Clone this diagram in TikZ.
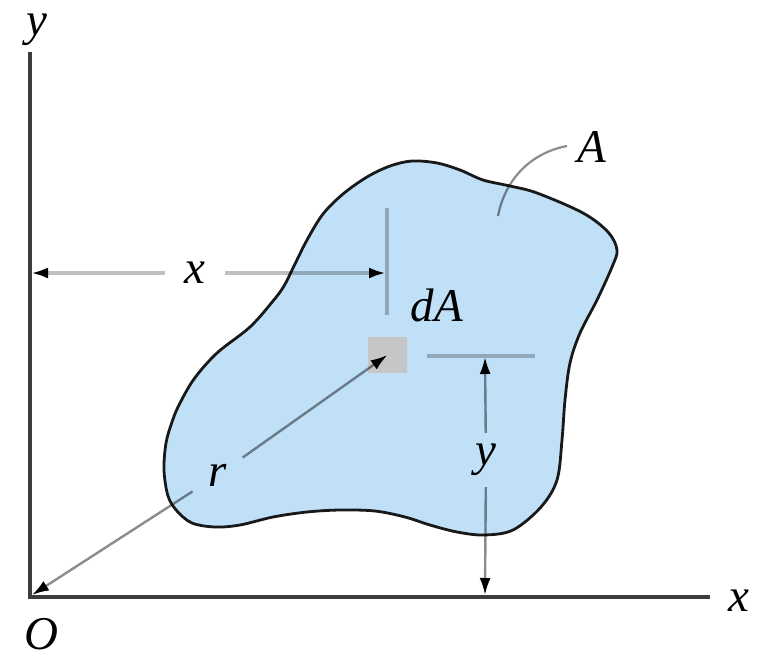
\documentclass[tikz,border=0pt]{standalone}
\usepackage{fontspec}
\setmainfont{Liberation Serif}
\usetikzlibrary{arrows.meta}
\definecolor{areablue}{RGB}{192,224,248}
\definecolor{axisgray}{RGB}{60,60,60}
\definecolor{lightdim}{RGB}{192,192,192}
\definecolor{darkdim}{RGB}{140,140,140}
\definecolor{sqgray}{RGB}{198,198,198}
\begin{document}
\begin{tikzpicture}[x=1pt,y=-1pt,
  font=\fontsize{47}{51}\selectfont\itshape,
  >={Latex[length=17pt,width=11pt,black]},
  lbl/.style={inner sep=0pt},
  axisline/.style={draw=axisgray,line width=4pt},
  outline/.style={draw=black!90,line width=2.8pt,fill=areablue},
  widedim/.style={draw=lightdim,line width=4.5pt},
  thindim/.style={draw=darkdim,line width=2.4pt},
  leaderline/.style={draw=darkdim,line width=2.2pt}]
\useasboundingbox (0,0) rectangle (758,659);

% area A
\path[outline] plot[smooth cycle, tension=0.55] coordinates {
 (250,327) (273,301) (284,286) (294,266) (307,240) (323,214) (343,194)
 (367,177) (390,166) (412,161) (437,163) (460,170) (483,180) (510,186)
 (537,193) (583,213) (608,232) (617,250) (612,267) (597,300) (580,333)
 (570,363) (565,400) (562,440) (557,480) (541,507) (513,530) (484,535)
 (457,532) (430,525) (405,517) (375,511) (340,510) (307,512) (273,517)
 (240,525) (215,527) (192,523) (177,511) (168,496) (164,470) (166,443)
 (172,422) (179,405) (194,379) (217,353)};

% axes
\coordinate (O) at (30,597);
\coordinate (Ytop) at (30,52);
\coordinate (Xend) at (710,597);
\draw[axisline] (Ytop) -- (O) -- (Xend);
\node[lbl] (ylab) at (37,30) {y};
\node[lbl] (xlab) at (739,601) {x};
\node[lbl] (Olab) at (41,634) {O};

% element dA
\node[fill=sqgray,minimum width=39pt,minimum height=36pt,inner sep=0pt] (dA) at (387.5,355) {};
\node[lbl] (dAlab) at (437,305) {dA};

% label A with leader
\node[lbl] (Alab) at (592,147) {A};
\coordinate (Ain) at (498,216);
\coordinate (Aout) at (567,146);
\begin{scope}[blend mode=multiply]
\draw[leaderline] (Ain) .. controls (505,180) and (530,153) .. (Aout);

% extension lines
\coordinate (e1a) at (387,208);
\coordinate (e1b) at (387,315);
\coordinate (e2a) at (427,356);
\coordinate (e2b) at (535,356);
\draw[widedim] (e1a) -- (e1b);
\draw[widedim] (e2a) -- (e2b);

% x dimension
\coordinate (xd0) at (31,273);
\coordinate (xd1) at (386,273);
\node[lbl,minimum width=60pt] (xdl) at (195,273) {x};
\draw[widedim,<-] (xd0) -- (xdl);
\draw[widedim,->] (xdl) -- (xd1);

% y dimension
\coordinate (yd0) at (485,357);
\coordinate (yd1) at (485,595);
\node[lbl,minimum height=54pt] (ydl) at (486,460) {y};
\draw[thindim,<-] (yd0) -- (ydl);
\draw[thindim,->] (ydl) -- (yd1);

% position vector r
\node[lbl,circle,minimum size=60pt] (rlab) at (218,475) {r};
\draw[thindim,<-] ([shift={(2,-2)}]O) -- (rlab);
\draw[thindim,->] (rlab) -- (dA.center);
\end{scope}
\end{tikzpicture}
\end{document}
